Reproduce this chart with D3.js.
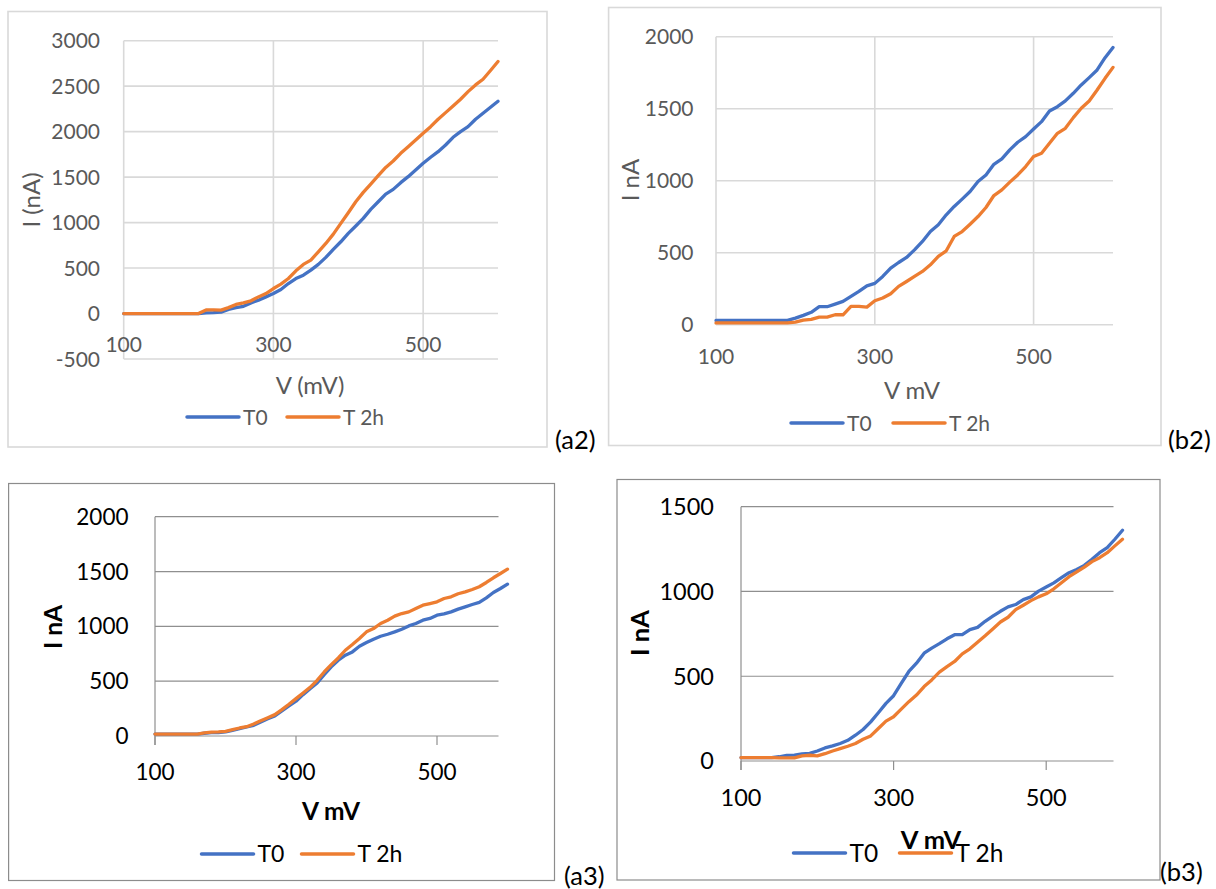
<!DOCTYPE html>
<html>
<head>
<meta charset="utf-8">
<script src="https://cdn.jsdelivr.net/npm/d3@7"></script>
<style>
  body { margin: 0; background: #fff; }
  svg text { font-family: Lato, "Open Sans", sans-serif; }
</style>
</head>
<body>
<svg id="chart" width="1216" height="889"></svg>
<script>
// voltage sweep, mV
var volts = [100,110,120,130,140,150,160,170,180,190,200,210,220,230,240,250,260,270,280,290,300,
  310,320,330,340,350,360,370,380,390,400,410,420,430,440,450,460,470,480,490,500,
  510,520,530,540,550,560,570,580,590,600];

// (a2) current, nA
var a2T0 = [0,0,0,0,0,0,0,0,0,0,0,8,10,15,45,65,80,117,147,183,220,264,330,385,422,477,540,617,705,789,881,
  962,1046,1145,1229,1314,1365,1439,1505,1578,1652,1718,1780,1853,1938,2000,2055,2136,2202,2268,2335];
var a2T2h = [0,0,0,0,0,0,0,0,0,0,0,40,40,37,65,100,117,140,183,220,275,323,385,470,540,587,679,771,873,991,1108,
  1229,1332,1424,1516,1607,1677,1762,1835,1908,1982,2055,2136,2209,2283,2356,2440,2514,2576,2672,2771];

// (b2)
var b2T0 = [30,30,30,30,30,30,30,30,30,30,46,65,86,125,125,143,162,197,231,270,287,335,393,432,467,520,578,647,694,763,821,
  872,925,994,1040,1114,1151,1214,1267,1306,1359,1410,1484,1514,1554,1607,1665,1716,1769,1854,1925];
var b2T2h = [12,12,12,12,12,12,12,12,12,12,18,32,37,53,53,69,69,127,127,122,166,185,215,266,300,335,370,416,474,513,613,
  647,698,751,814,897,936,990,1040,1098,1168,1191,1260,1329,1364,1438,1503,1554,1630,1711,1787];

// (a3)
var a3T0 = [18,18,18,18,18,18,18,25,30,30,37,52,67,82,97,128,158,183,228,274,317,377,432,484,560,630,691,737,767,819,852,
  883,910,928,950,974,1004,1026,1056,1072,1102,1114,1132,1157,1178,1199,1218,1260,1309,1345,1385];
var a3T2h = [18,18,18,18,18,18,18,28,35,38,43,58,73,85,110,140,167,195,240,289,341,393,444,508,584,651,712,782,834,889,950,
  980,1026,1056,1093,1117,1132,1163,1193,1208,1224,1254,1269,1297,1315,1336,1361,1400,1443,1482,1522];

// (b3)
var b3T0 = [20,20,20,20,20,25,33,35,42,45,59,77,89,103,122,152,186,231,285,340,385,458,528,577,636,666,692,721,745,745,775,
  788,824,854,883,909,923,952,968,1002,1026,1051,1081,1111,1130,1154,1190,1229,1259,1308,1361];
var b3T2h = [20,20,20,20,20,18,18,18,30,34,30,43,59,73,87,103,128,148,192,235,261,306,350,389,439,478,524,557,587,632,662,
  701,739,779,820,848,893,919,946,968,986,1016,1051,1087,1116,1144,1176,1199,1229,1269,1308];

var xTicks = [100, 300, 500];
var a2YTicks = [-500, 0, 500, 1000, 1500, 2000, 2500, 3000];
var b2YTicks = [0, 500, 1000, 1500, 2000];
var a3YTicks = [0, 500, 1000, 1500, 2000];
var b3YTicks = [0, 500, 1000, 1500];
var seriesNames = ["T0", "T 2h"];
var colors = ["#4472C4", "#ED7D31"];

var svg = d3.select("#chart");
svg.append("rect").attr("width", 1216).attr("height", 889).attr("fill", "#fff");

var panels = [
  { name: "(a2)", series: [a2T0, a2T2h], yTicks: a2YTicks, style: "light",
    box: [8, 11.5, 547, 447], px: [123.7, 498], py: [359, 40.7], xLabY: 344,
    yLabX: 100, fs: 21, xTitle: "V (mV)", yTitle: "I (nA)", titleFs: 24, bold: false,
    xTitleAt: [310, 385], yTitleAt: [31, 200], legY: 417, leg: [187, 287], legFs: 21,
    tag: [555, 440], tagFs: 25.5 },
  { name: "(b2)", series: [b2T0, b2T2h], yTicks: b2YTicks, style: "light",
    box: [608.6, 7.5, 1161, 445.5], px: [716, 1113], py: [324.7, 36.7], xLabY: 356,
    yLabX: 693.5, fs: 21, xTitle: "V mV", yTitle: "I nA", titleFs: 24, bold: false,
    xTitleAt: [912, 390], yTitleAt: [630, 180], legY: 423, leg: [791, 893], legFs: 21,
    tag: [1168, 440], tagFs: 25.5 },
  { name: "(a3)", series: [a3T0, a3T2h], yTicks: a3YTicks, style: "dark",
    box: [8.6, 483.5, 554.5, 880.5], px: [155, 507.5], py: [736, 516.7], xLabY: 772,
    yLabX: 128.5, fs: 22.5, xTitle: "V mV", yTitle: "I nA", titleFs: 24.5, bold: true,
    xTitleAt: [331, 811], yTitleAt: [53, 627], legY: 854, leg: [201.5, 301.5], legFs: 23,
    tag: [564, 876], tagFs: 25.5 },
  { name: "(b3)", series: [b3T0, b3T2h], yTicks: b3YTicks, style: "dark",
    box: [617, 479.5, 1160, 880], px: [741, 1122.5], py: [761, 506.7], xLabY: 798,
    yLabX: 714, fs: 23.5, xTitle: "V mV", yTitle: "I nA", titleFs: 25.5, bold: true,
    xTitleAt: [931, 840], yTitleAt: [640, 633], legY: 853, leg: [793.5, 899.5], legFs: 24.5,
    tag: [1160, 872], tagFs: 25.5 }
];

panels.forEach(drawPanel);

function drawPanel(p) {
  var light = p.style === "light";
  var gridColor = light ? "#d9d9d9" : "#8f8f8f";
  var textColor = light ? "#595959" : "#000";
  var g = svg.append("g");

  g.append("rect")
    .attr("x", p.box[0]).attr("y", p.box[1])
    .attr("width", p.box[2] - p.box[0]).attr("height", p.box[3] - p.box[1])
    .attr("fill", "none")
    .attr("stroke", light ? "#d9d9d9" : "#8c8c8c")
    .attr("stroke-width", light ? 1.6 : 1.2);

  var x = d3.scaleLinear().domain([100, 600]).range(p.px);
  var y = d3.scaleLinear().domain([p.yTicks[0], p.yTicks[p.yTicks.length - 1]]).range(p.py);
  var tickLen = light ? 0 : 9;

  // horizontal grid lines
  var yGrid = g.append("g")
    .attr("transform", "translate(" + p.px[0] + ",0)")
    .call(d3.axisLeft(y).tickValues(p.yTicks).tickSize(-(p.px[1] - p.px[0])).tickFormat(""));
  yGrid.select(".domain").remove();
  yGrid.selectAll("line")
    .attr("x1", tickLen)
    .attr("stroke", gridColor).attr("stroke-width", light ? 1.6 : 1.2);
  yGrid.selectAll(".tick").attr("transform", function(d) { return "translate(" + (-tickLen) + "," + y(d) + ")"; });

  // vertical grid lines (light style) or tick marks (dark style)
  if (light) {
    g.selectAll(".vgrid").data(xTicks).enter().append("line")
      .attr("x1", function(d) { return x(d); }).attr("x2", function(d) { return x(d); })
      .attr("y1", p.py[1]).attr("y2", p.py[0])
      .attr("stroke", gridColor).attr("stroke-width", 1.6);
  } else {
    g.append("line")
      .attr("x1", p.px[0]).attr("x2", p.px[0])
      .attr("y1", p.py[1]).attr("y2", p.py[0] + tickLen)
      .attr("stroke", gridColor).attr("stroke-width", 1.2);
    g.selectAll(".xtick").data(xTicks).enter().append("line")
      .attr("x1", function(d) { return x(d); }).attr("x2", function(d) { return x(d); })
      .attr("y1", p.py[0]).attr("y2", p.py[0] + tickLen)
      .attr("stroke", gridColor).attr("stroke-width", 1.2);
  }

  // tick labels
  g.selectAll(".ylab").data(p.yTicks).enter().append("text")
    .attr("x", p.yLabX).attr("y", function(d) { return y(d); })
    .attr("dy", "0.36em").attr("text-anchor", "end")
    .attr("font-size", p.fs).attr("fill", textColor)
    .text(function(d) { return d; });
  g.selectAll(".xlab").data(xTicks).enter().append("text")
    .attr("x", function(d) { return x(d); }).attr("y", p.xLabY)
    .attr("dy", "0.36em").attr("text-anchor", "middle")
    .attr("font-size", p.fs).attr("fill", textColor)
    .text(function(d) { return d; });

  // axis titles
  g.append("text")
    .attr("x", p.xTitleAt[0]).attr("y", p.xTitleAt[1]).attr("dy", "0.36em")
    .attr("text-anchor", "middle").attr("font-size", p.titleFs)
    .attr("font-weight", p.bold ? "bold" : "normal").attr("fill", textColor)
    .text(p.xTitle);
  g.append("text")
    .attr("transform", "translate(" + p.yTitleAt[0] + "," + p.yTitleAt[1] + ") rotate(-90)")
    .attr("dy", "0.36em")
    .attr("text-anchor", "middle").attr("font-size", p.titleFs)
    .attr("font-weight", p.bold ? "bold" : "normal").attr("fill", textColor)
    .text(p.yTitle);

  // series
  var line = d3.line()
    .x(function(d, i) { return x(volts[i]); })
    .y(function(d) { return y(d); });
  p.series.forEach(function(s, i) {
    g.append("path").datum(s)
      .attr("d", line)
      .attr("fill", "none").attr("stroke", colors[i])
      .attr("stroke-width", 3.3)
      .attr("stroke-linejoin", "round").attr("stroke-linecap", "round");
  });

  // legend
  seriesNames.forEach(function(n, i) {
    var lx = p.leg[i];
    g.append("line")
      .attr("x1", lx).attr("x2", lx + 52).attr("y1", p.legY).attr("y2", p.legY)
      .attr("stroke", colors[i]).attr("stroke-width", 3.5).attr("stroke-linecap", "round");
    g.append("text")
      .attr("x", lx + 56).attr("y", p.legY).attr("dy", "0.36em")
      .attr("font-size", p.legFs).attr("fill", textColor)
      .text(n);
  });

  // panel tag
  svg.append("text")
    .attr("x", p.tag[0]).attr("y", p.tag[1]).attr("dy", "0.36em")
    .attr("font-size", p.tagFs).attr("fill", "#000")
    .text(p.name);
}
</script>
</body>
</html>
